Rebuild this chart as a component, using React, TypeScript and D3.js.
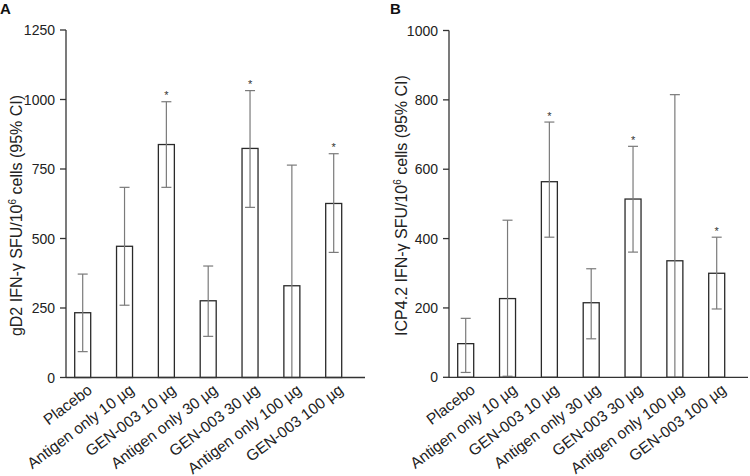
import React from "react";
import * as d3 from "d3";

const categories = [
  "Placebo",
  "Antigen only 10 µg",
  "GEN-003 10 µg",
  "Antigen only 30 µg",
  "GEN-003 30 µg",
  "Antigen only 100 µg",
  "GEN-003 100 µg",
];

// Panel A: gD2
const gd2Mean = [233, 472, 838, 276, 824, 330, 626];
const gd2Upper = [372, 684, 992, 401, 1032, 764, 805];
const gd2Lower = [93, 260, 684, 148, 612, 0, 450];
const gd2Sig = [false, false, true, false, true, false, true];
const gd2Ticks = [0, 250, 500, 750, 1000, 1250];

// Panel B: ICP4.2
const icpMean = [97, 227, 564, 215, 514, 336, 300];
const icpUpper = [170, 453, 736, 313, 666, 815, 404];
const icpLower = [14, 3, 404, 111, 361, 0, 197];
const icpSig = [false, false, true, false, true, false, true];
const icpTicks = [0, 200, 400, 600, 800, 1000];

const FONT = "'Liberation Sans', Arial, Helvetica, sans-serif";

type PanelProps = {
  tx: number;
  letter: string;
  letterX: number;
  title: string;
  titleX: number;
  titleY: number;
  mean: number[];
  upper: number[];
  lower: number[];
  sig: boolean[];
  ticks: number[];
  yMax: number;
  y0: number;
  y1: number;
};

function Panel(p: PanelProps) {
  const y = d3.scaleLinear().domain([0, p.yMax]).range([p.y0, p.y1]);
  const x = d3.scalePoint<string>().domain(categories).range([16.7, 267.7]);
  const bw = 16;
  const cap = 5;
  const axisEnd = 299;
  const [t1, t2] = p.title.split("|");
  return (
    <g>
      <text x={p.letterX} y={14} fontFamily={FONT} fontWeight="bold" fontSize={15} fill="#111">
        {p.letter}
      </text>
      <text
        transform={`translate(${p.titleX},${p.titleY}) rotate(-90)`}
        textAnchor="middle"
        fontFamily={FONT}
        fontSize={16}
        fill="#222"
      >
        {t1}
        <tspan fontSize={10} dy={-6}>6</tspan>
        <tspan dy={6}>{t2}</tspan>
      </text>
      <g transform={`translate(${p.tx},0)`}>
        {categories.map((c, i) => {
          const cx = x(c) as number;
          const top = y(p.mean[i]);
          const yu = y(p.upper[i]);
          const yl = y(Math.max(0, p.lower[i]));
          return (
            <g key={c}>
              <rect
                x={cx - bw / 2}
                y={top}
                width={bw}
                height={y(0) - top}
                fill="white"
                stroke="#2a2a2a"
                strokeWidth={1.3}
              />
              <line x1={cx} x2={cx} y1={yu} y2={yl} stroke="#7a7a7a" strokeWidth={1.2} />
              <line x1={cx - cap} x2={cx + cap} y1={yu} y2={yu} stroke="#7a7a7a" strokeWidth={1.2} />
              {p.lower[i] > 0 && (
                <line x1={cx - cap} x2={cx + cap} y1={yl} y2={yl} stroke="#7a7a7a" strokeWidth={1.2} />
              )}
              {p.sig[i] && (
                <text x={cx} y={yu - 2.4} textAnchor="middle" fontFamily={FONT} fontSize={11} fill="#333">
                  *
                </text>
              )}
              <text
                transform={`translate(${cx + 10.5},${y(0) + 14.5}) rotate(-37)`}
                textAnchor="end"
                fontFamily={FONT}
                fontSize={15.5}
                fill="#222"
              >
                {c}
              </text>
            </g>
          );
        })}
        <line x1={0} x2={0} y1={y(p.yMax)} y2={y(0)} stroke="#333" strokeWidth={1.3} />
        <line x1={0} x2={axisEnd} y1={y(0)} y2={y(0)} stroke="#333" strokeWidth={1.3} />
        {p.ticks.map((t) => (
          <g key={t}>
            <line x1={-6} x2={0} y1={y(t)} y2={y(t)} stroke="#333" strokeWidth={1.3} />
            <text
              x={-11}
              y={y(t)}
              dy="0.36em"
              textAnchor="end"
              fontFamily={FONT}
              fontSize={14}
              fill="#222"
            >
              {t}
            </text>
          </g>
        ))}
      </g>
    </g>
  );
}

export default function App() {
  return (
    <svg
      width={750}
      height={476}
      style={{ position: "absolute", left: 0, top: 0, background: "white" }}
    >
      <Panel
        tx={66}
        letter="A"
        letterX={0}
        title="gD2 IFN-γ SFU/10| cells (95% CI)"
        titleX={22}
        titleY={215.5}
        mean={gd2Mean}
        upper={gd2Upper}
        lower={gd2Lower}
        sig={gd2Sig}
        ticks={gd2Ticks}
        yMax={1250}
        y0={377.5}
        y1={30}
      />
      <Panel
        tx={449}
        letter="B"
        letterX={390}
        title="ICP4.2 IFN-γ SFU/10| cells (95% CI)"
        titleX={407}
        titleY={205.5}
        mean={icpMean}
        upper={icpUpper}
        lower={icpLower}
        sig={icpSig}
        ticks={icpTicks}
        yMax={1000}
        y0={377.3}
        y1={30.5}
      />
    </svg>
  );
}
